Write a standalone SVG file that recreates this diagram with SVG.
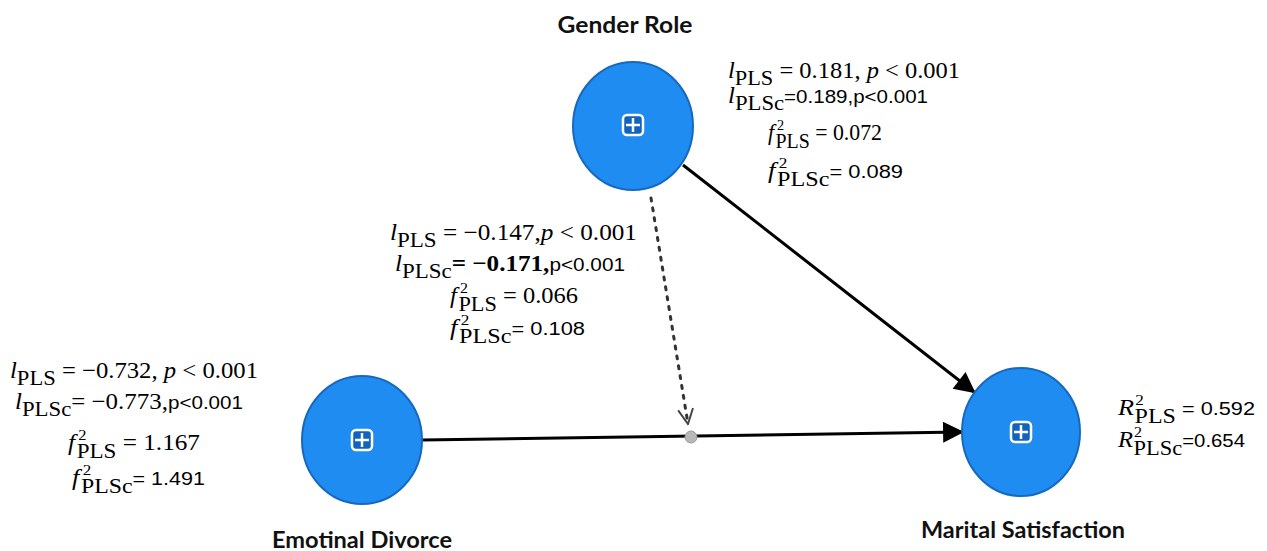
<svg xmlns="http://www.w3.org/2000/svg" width="1267" height="551" viewBox="0 0 1267 551">
<style>
.bg{fill:#ffffff}
.node{fill:#1e8cf0;stroke:#1769c0;stroke-width:2}
.icon{fill:#1262c0;stroke:#ffffff;stroke-width:2.5}
.plus{stroke:#ffffff;stroke-width:2.5;fill:none}
.name{font-family:Lato,"Liberation Sans",sans-serif;font-weight:bold;font-size:22px;fill:#111;text-anchor:middle}
.m{font-family:"Liberation Serif",serif;font-size:23px;fill:#000}
.i{font-style:italic}
.s{font-family:"Liberation Sans",sans-serif;font-size:19px}
.sub{font-size:21px}
.sup{font-size:15px}
.b{font-weight:bold}
.edge{stroke:#000;stroke-width:3;fill:none}
.dot{stroke:#333;stroke-width:3;fill:none;stroke-dasharray:3 7;stroke-linecap:round}
</style>
<defs>
<marker id="ah" viewBox="0 0 10 10" refX="9" refY="5" markerWidth="8" markerHeight="7" markerUnits="strokeWidth" orient="auto">
<path d="M0,0 L10,5 L0,10 z" fill="#000"/>
</marker>
<marker id="va" viewBox="0 0 12 12" refX="11" refY="6" markerWidth="6" markerHeight="6" markerUnits="strokeWidth" orient="auto">
<path d="M1,1 L11,6 L1,11" fill="none" stroke="#444" stroke-width="1.3"/>
</marker>
</defs>
<rect class="bg" x="0" y="0" width="1267" height="551"/>
<g id="connectors">
<line class="edge" x1="683" y1="165" x2="974" y2="392" marker-end="url(#ah)"/>
<line class="edge" x1="422" y1="440" x2="962" y2="432" marker-end="url(#ah)"/>
<line class="dot" x1="651" y1="198" x2="688" y2="424" marker-end="url(#va)"/>
<circle cx="691" cy="437" r="6" fill="#b8b8b8" stroke="#999" stroke-width="1"/>
</g>
<g id="gender-role">
<ellipse class="node" cx="633" cy="126" rx="60" ry="64"/>
<rect class="icon" x="623" y="115" width="20" height="20" rx="4"/>
<path class="plus" d="M633,118 V132 M626,125 H640"/>
<text class="name" x="625" y="33" textLength="135" lengthAdjust="spacingAndGlyphs">Gender Role</text>
</g>
<g id="emotional-divorce">
<ellipse class="node" cx="362" cy="440" rx="60" ry="64"/>
<rect class="icon" x="352" y="430" width="20" height="20" rx="4"/>
<path class="plus" d="M362,433 V447 M355,440 H369"/>
<text class="name" x="362" y="548" textLength="180" lengthAdjust="spacingAndGlyphs">Emotinal Divorce</text>
</g>
<g id="marital-satisfaction">
<ellipse class="node" cx="1021" cy="432" rx="59" ry="64"/>
<rect class="icon" x="1011" y="422" width="20" height="20" rx="4"/>
<path class="plus" d="M1021,425 V439 M1014,432 H1028"/>
<text class="name" x="1023" y="538" textLength="204" lengthAdjust="spacingAndGlyphs">Marital Satisfaction</text>
</g>
<g id="label-gender">
<text class="m" x="728" y="78" textLength="232" lengthAdjust="spacingAndGlyphs"><tspan class="i">l</tspan><tspan class="sub" dy="7">PLS</tspan><tspan dy="-7"> = 0.181, </tspan><tspan class="i">p</tspan><tspan> &lt; 0.001</tspan></text>
<text class="m" x="728" y="103" textLength="200" lengthAdjust="spacingAndGlyphs"><tspan class="i">l</tspan><tspan class="sub" dy="7">PLSc</tspan><tspan class="s" dy="-7">=0.189,p&lt;0.001</tspan></text>
<text class="m" x="768" y="140" textLength="114" lengthAdjust="spacingAndGlyphs"><tspan class="i">f</tspan><tspan class="sup" dx="3" dy="-10">2</tspan><tspan class="sub" dx="-9" dy="18">PLS</tspan><tspan dy="-8"> = 0.072</tspan></text>
<text class="m" x="768" y="178" textLength="135" lengthAdjust="spacingAndGlyphs"><tspan class="i">f</tspan><tspan class="sup" dx="3" dy="-10">2</tspan><tspan class="sub" dx="-9" dy="18">PLSc</tspan><tspan class="s" dy="-8">= 0.089</tspan></text>
</g>
<g id="label-moderation">
<text class="m" x="390" y="240" textLength="247" lengthAdjust="spacingAndGlyphs"><tspan class="i">l</tspan><tspan class="sub" dy="7">PLS</tspan><tspan dy="-7"> = −0.147,</tspan><tspan class="i">p</tspan><tspan> &lt; 0.001</tspan></text>
<text class="m" x="395" y="271" textLength="230" lengthAdjust="spacingAndGlyphs"><tspan class="i">l</tspan><tspan class="sub" dy="7">PLSc</tspan><tspan class="b" dy="-7">= −0.171,</tspan><tspan class="s">p&lt;0.001</tspan></text>
<text class="m" x="450" y="303" textLength="128" lengthAdjust="spacingAndGlyphs"><tspan class="i">f</tspan><tspan class="sup" dx="3" dy="-10">2</tspan><tspan class="sub" dx="-9" dy="18">PLS</tspan><tspan dy="-8"> = 0.066</tspan></text>
<text class="m" x="450" y="335" textLength="135" lengthAdjust="spacingAndGlyphs"><tspan class="i">f</tspan><tspan class="sup" dx="3" dy="-10">2</tspan><tspan class="sub" dx="-9" dy="18">PLSc</tspan><tspan class="s" dy="-8">= 0.108</tspan></text>
</g>
<g id="label-divorce">
<text class="m" x="10" y="378" textLength="248" lengthAdjust="spacingAndGlyphs"><tspan class="i">l</tspan><tspan class="sub" dy="7">PLS</tspan><tspan dy="-7"> = −0.732, </tspan><tspan class="i">p</tspan><tspan> &lt; 0.001</tspan></text>
<text class="m" x="15" y="409" textLength="228" lengthAdjust="spacingAndGlyphs"><tspan class="i">l</tspan><tspan class="sub" dy="7">PLSc</tspan><tspan dy="-7">= −0.773,</tspan><tspan class="s">p&lt;0.001</tspan></text>
<text class="m" x="68" y="450" textLength="132" lengthAdjust="spacingAndGlyphs"><tspan class="i">f</tspan><tspan class="sup" dx="3" dy="-10">2</tspan><tspan class="sub" dx="-9" dy="18">PLS</tspan><tspan dy="-8"> = 1.167</tspan></text>
<text class="m" x="72" y="485" textLength="133" lengthAdjust="spacingAndGlyphs"><tspan class="i">f</tspan><tspan class="sup" dx="3" dy="-10">2</tspan><tspan class="sub" dx="-9" dy="18">PLSc</tspan><tspan class="s" dy="-8">= 1.491</tspan></text>
</g>
<g id="label-r2">
<text class="m" x="1118" y="415" textLength="137" lengthAdjust="spacingAndGlyphs"><tspan class="i">R</tspan><tspan class="sup" dx="1" dy="-10">2</tspan><tspan class="sub" dx="-8" dy="18">PLS</tspan><tspan class="s" dy="-8"> = 0.592</tspan></text>
<text class="m" x="1118" y="447" textLength="127" lengthAdjust="spacingAndGlyphs"><tspan class="i">R</tspan><tspan class="sup" dx="1" dy="-10">2</tspan><tspan class="sub" dx="-8" dy="18">PLSc</tspan><tspan class="s" dy="-8">=0.654</tspan></text>
</g>
</svg>
